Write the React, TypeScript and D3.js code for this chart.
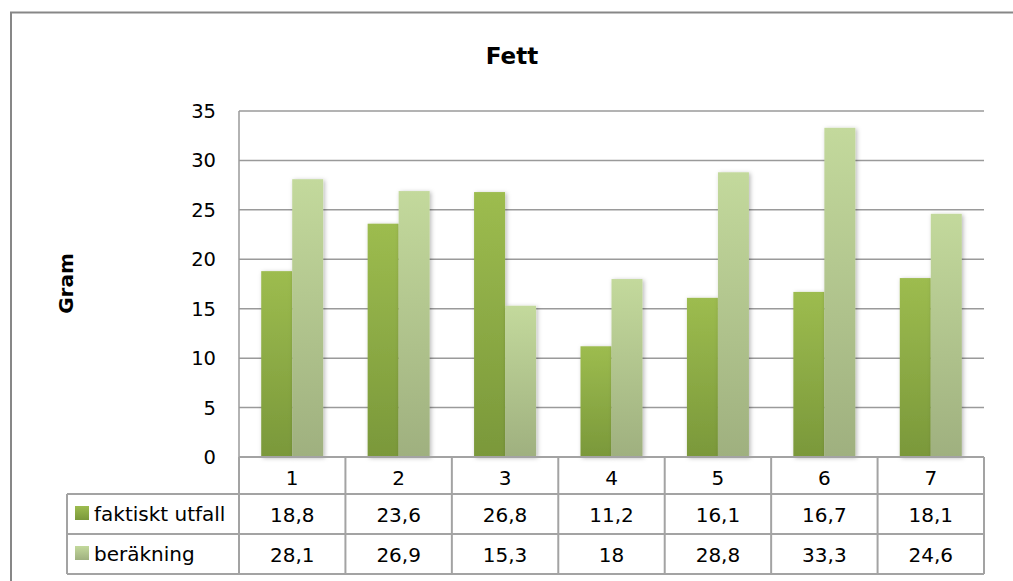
import React from "react";
import * as d3 from "d3";

const categories = ["1", "2", "3", "4", "5", "6", "7"];
const seriesNames = ["faktiskt utfall", "beräkning"];
const faktisktUtfall = [18.8, 23.6, 26.8, 11.2, 16.1, 16.7, 18.1];
const berakning = [28.1, 26.9, 15.3, 18, 28.8, 33.3, 24.6];
const yTicks = [0, 5, 10, 15, 20, 25, 30, 35];
const tableLabels = [
  ["18,8", "23,6", "26,8", "11,2", "16,1", "16,7", "18,1"],
  ["28,1", "26,9", "15,3", "18", "28,8", "33,3", "24,6"],
];

const W = 1013;
const H = 581;
const FONT = "'DejaVu Sans', 'Liberation Sans', Arial, sans-serif";

const plot = { left: 239, right: 984, top: 111, bottom: 457 };
const tableLeft = 67;
const catRowBottom = 494;
const row1Bottom = 534;
const row2Bottom = 574;
const barW = 31;

const gradients = [
  { id: "gGreen", top: "#9dbc4f", bottom: "#7a983a" },
  { id: "gLight", top: "#c3d99c", bottom: "#9fb07f" },
];

export default function App() {
  const y = d3.scaleLinear().domain([0, 35]).range([plot.bottom, plot.top]);
  const x = d3.scaleBand<string>().domain(categories).range([plot.left, plot.right]).padding(0);
  const bw = x.bandwidth();
  const x1 = d3
    .scaleBand<string>()
    .domain(seriesNames)
    .range([(bw - 2 * barW) / 2, (bw + 2 * barW) / 2])
    .padding(0);
  const series = [faktisktUtfall, berakning];
  const gridColor = "#9a9a9a";
  const tableColor = "#a3a3a3";

  return (
    <svg
      width={W}
      height={H}
      style={{ position: "absolute", left: 0, top: 0, background: "#fff" }}
      fontFamily={FONT}
    >
      <defs>
        {gradients.map((g) => (
          <linearGradient key={g.id} id={g.id} x1="0" y1="0" x2="0" y2="1">
            <stop offset="0" stopColor={g.top} />
            <stop offset="1" stopColor={g.bottom} />
          </linearGradient>
        ))}
        <filter id="barShadow" x="-30%" y="-10%" width="160%" height="120%">
          <feDropShadow dx="1.5" dy="1" stdDeviation="2" floodColor="#000" floodOpacity="0.28" />
        </filter>
      </defs>
      <rect x={0} y={0} width={W} height={H} fill="#fff" />
      {/* outer chart frame */}
      <path d={`M11,${H + 5} V12.5 H${W + 5}`} fill="none" stroke="#878787" strokeWidth={2} />

      <text x={512} y={64} textAnchor="middle" fontSize={23} fontWeight="bold" fill="#000">
        Fett
      </text>
      <text
        transform={`translate(73,283.5) rotate(-90)`}
        textAnchor="middle"
        fontSize={20}
        fontWeight="bold"
        fill="#000"
      >
        Gram
      </text>

      {/* gridlines */}
      {yTicks.map((t) => (
        <line
          key={t}
          x1={plot.left}
          x2={plot.right}
          y1={y(t)}
          y2={y(t)}
          stroke={gridColor}
          strokeWidth={1.5}
        />
      ))}
      <line x1={plot.left} x2={plot.left} y1={plot.top} y2={plot.bottom} stroke={gridColor} strokeWidth={1.5} />

      {yTicks.map((t) => (
        <text key={t} x={216} y={y(t) + 7} textAnchor="end" fontSize={19.5} fill="#000">
          {t}
        </text>
      ))}

      {/* bars */}
      {categories.map((c, i) => (
        <g key={c} transform={`translate(${x(c)},0)`}>
          {series.map((vals, s) => (
            <rect
              key={s}
              x={x1(seriesNames[s])}
              y={y(vals[i])}
              width={x1.bandwidth()}
              height={y(0) - y(vals[i])}
              fill={`url(#${gradients[s].id})`}
              filter="url(#barShadow)"
            />
          ))}
        </g>
      ))}

      {/* data table */}
      <g stroke={tableColor} strokeWidth={2} fill="none">
        <line x1={plot.left} x2={plot.right} y1={plot.bottom} y2={plot.bottom} />
        <line x1={tableLeft} x2={plot.right} y1={catRowBottom} y2={catRowBottom} />
        <line x1={tableLeft} x2={plot.right} y1={row1Bottom} y2={row1Bottom} />
        <line x1={tableLeft} x2={plot.right} y1={row2Bottom} y2={row2Bottom} />
        <line x1={tableLeft} x2={tableLeft} y1={catRowBottom} y2={row2Bottom} />
        {categories.map((c) => (
          <line key={c} x1={x(c)} x2={x(c)} y1={plot.bottom} y2={row2Bottom} />
        ))}
        <line x1={plot.right} x2={plot.right} y1={plot.bottom} y2={row2Bottom} />
      </g>
      {categories.map((c) => (
        <text key={c} x={(x(c) as number) + bw / 2} y={485} textAnchor="middle" fontSize={20} fill="#000">
          {c}
        </text>
      ))}
      {tableLabels.map((row, r) =>
        row.map((lab, i) => (
          <text
            key={`${r}-${i}`}
            x={(x(categories[i]) as number) + bw / 2}
            y={r === 0 ? 522 : 562}
            textAnchor="middle"
            fontSize={20}
            fill="#000"
          >
            {lab}
          </text>
        ))
      )}
      {seriesNames.map((name, s) => {
        const cy = s === 0 ? 513 : 553;
        return (
          <g key={name}>
            <rect x={75} y={cy - 7} width={14} height={14} fill={`url(#${gradients[s].id})`} />
            <text x={94} y={cy + 8} fontSize={20} fill="#000">
              {name}
            </text>
          </g>
        );
      })}
    </svg>
  );
}
